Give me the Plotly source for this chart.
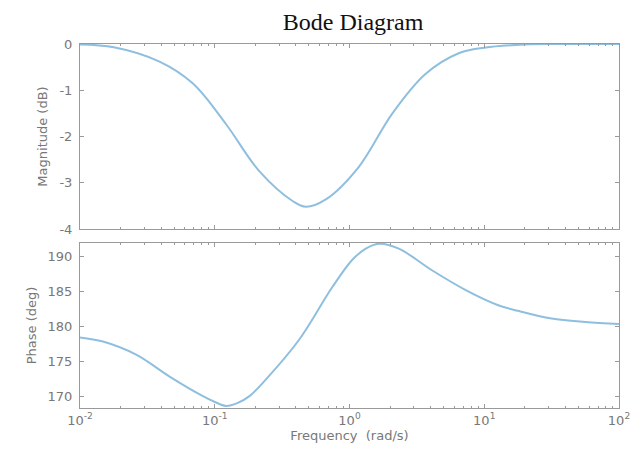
import plotly.graph_objects as go

# Magnitude response
mag_freq = [0.01, 0.0178, 0.0389, 0.0686, 0.121, 0.214, 0.380, 0.474, 0.667,
            1.17, 2.07, 3.66, 6.46, 10.0, 20.0, 39.8, 100.0]
mag_db = [-0.01, -0.07, -0.38, -0.85, -1.73, -2.75, -3.40, -3.52, -3.36,
          -2.66, -1.51, -0.65, -0.20, -0.08, -0.01, 0.0, 0.0]

# Phase response
ph_freq = [0.01, 0.0148, 0.0263, 0.0462, 0.0817, 0.0993, 0.121, 0.147, 0.181,
           0.240, 0.424, 0.746, 1.05, 1.32, 1.65, 2.32, 4.09, 7.23, 12.7,
           17.8, 31.6, 56.2, 100.0]
ph_deg = [178.4, 177.8, 175.9, 172.8, 170.0, 169.2, 168.6, 169.0, 170.0,
          172.4, 178.1, 185.6, 189.5, 191.1, 191.8, 191.1, 188.0, 185.2, 183.0,
          182.2, 181.1, 180.6, 180.3]

x_tickvals = [0.01, 0.1, 1, 10, 100]
x_ticktext = ["10<sup>-2</sup>", "10<sup>-1</sup>", "10<sup>0</sup>",
              "10<sup>1</sup>", "10<sup>2</sup>"]
mag_ticks = [0, -1, -2, -3, -4]
ph_ticks = [170, 175, 180, 185, 190]

LINE = "#8fbfdf"
AX = "#9a9a9a"
TXT = "#787878"
FONT = "DejaVu Sans, Arial, sans-serif"

fig = go.Figure()
fig.add_trace(go.Scatter(x=mag_freq, y=mag_db, mode="lines",
                         line=dict(color=LINE, width=2, shape="spline", smoothing=1.0),
                         xaxis="x", yaxis="y", showlegend=False))
fig.add_trace(go.Scatter(x=ph_freq, y=ph_deg, mode="lines",
                         line=dict(color=LINE, width=2, shape="spline", smoothing=1.0),
                         xaxis="x2", yaxis="y2", showlegend=False))

common_x = dict(type="log", range=[-2, 2], showgrid=False, zeroline=False,
                showline=True, linecolor=AX, linewidth=1, mirror="ticks",
                ticks="inside", ticklen=4, tickcolor=AX,
                minor=dict(ticks="inside", ticklen=2, tickcolor=AX, showgrid=False, dtick="D1"),
                tickvals=x_tickvals, ticktext=x_ticktext,
                tickfont=dict(family=FONT, size=13, color=TXT))
common_y = dict(showgrid=False, zeroline=False, showline=True, linecolor=AX,
                linewidth=1, mirror="ticks", ticks="inside", ticklen=4,
                tickcolor=AX, ticklabelstandoff=4,
                tickfont=dict(family=FONT, size=13, color=TXT))

fig.update_layout(
    width=642, height=459,
    margin=dict(l=80, r=21, t=44, b=51),
    paper_bgcolor="white", plot_bgcolor="white",
    title=dict(text="Bode Diagram", x=0.55, xanchor="center", y=0.952, yanchor="middle",
               font=dict(family="Liberation Serif, Times New Roman, serif", size=24, color="#111111")),
    xaxis=dict(common_x, domain=[0, 1], anchor="y", showticklabels=False),
    xaxis2=dict(common_x, domain=[0, 1], anchor="y2", matches="x",
                title=dict(text="Frequency  (rad/s)", standoff=3,
                           font=dict(family=FONT, size=13, color=TXT))),
    yaxis=dict(common_y, domain=[0.4918, 1], anchor="x", range=[-4, 0],
               tickvals=mag_ticks, ticktext=[str(v) for v in mag_ticks],
               title=dict(text="Magnitude (dB)", standoff=8,
                          font=dict(family=FONT, size=13, color=TXT))),
    yaxis2=dict(common_y, domain=[0, 0.4533], anchor="x2", range=[168.3, 191.9],
                tickvals=ph_ticks, ticktext=[str(v) for v in ph_ticks],
                title=dict(text="Phase (deg)", standoff=8,
                           font=dict(family=FONT, size=13, color=TXT))),
)

fig.write_html("out.html")
